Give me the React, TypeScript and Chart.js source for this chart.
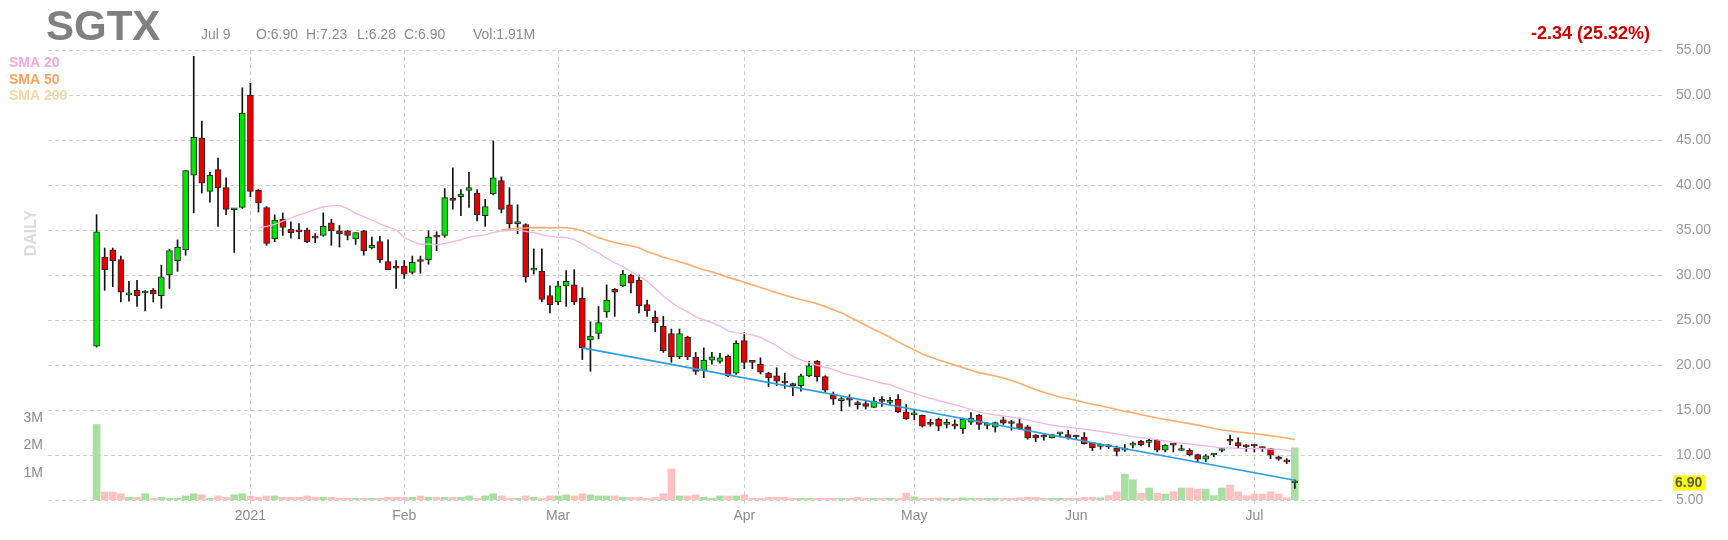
import React, { useEffect, useRef } from 'react';
import { Chart, registerables } from 'chart.js';

Chart.register(...registerables);

// ---- Data ----
// One entry per trading day, Dec 4 2020 (index 0) .. Jul 9 2021 (index 148)
const opens = [
  22.1, 32.0, 32.8, 31.7, 27.8, 28.3, 28.0, 28.3, 27.7, 30.0,
  31.6, 32.8, 41.1, 45.2, 39.3, 41.7, 39.7, 37.25, 37.5, 50.0,
  39.4, 37.5, 34.0, 36.2, 35.1, 34.85, 35.0, 34.15, 34.4, 35.8,
  34.9, 34.9, 34.0, 34.9, 33.0, 33.7, 31.5, 31.0, 31.0, 30.3,
  31.55, 31.7, 34.25, 34.4, 38.35, 38.7, 39.4, 39.1, 36.6, 39.0,
  40.5, 37.8, 35.7, 35.6, 30.55, 30.4, 27.7, 27.0, 28.8, 28.9,
  27.4, 22.8, 23.5, 25.9, 28.4, 28.8, 30.0, 29.4, 26.7, 25.3,
  24.3, 23.5, 20.9, 23.1, 20.85, 19.4, 20.55, 20.4, 21.0, 19.1,
  22.7, 20.35, 20.1, 19.1, 18.8, 18.05, 17.85, 17.7, 18.8, 20.4,
  18.7, 16.7, 16.05, 16.15, 15.65, 15.7, 15.3, 16.05, 15.85, 16.2,
  14.8, 14.45, 14.4, 13.45, 13.96, 13.4, 13.25, 12.9, 13.66, 14.4,
  13.3, 13.1, 13.9, 13.55, 13.5, 13.12, 12.2, 12.05, 11.93, 12.35,
  12.27, 12.05, 12.0, 11.38, 10.95, 10.95, 10.78, 10.55, 11.1, 11.53,
  11.4, 11.64, 10.53, 11.15, 10.5, 10.53, 10.04, 9.53, 10.0, 10.5,
  11.58, 11.38, 10.95, 11.05, 10.75, 10.7, 9.8, 9.4, 6.90,
];
const highs = [
  36.7, 33.0, 33.0, 32.1, 29.3, 29.4, 28.3, 28.5, 31.1, 32.85,
  33.9, 41.6, 54.3, 47.1, 41.4, 43.0, 40.8, 37.4, 50.8, 51.3,
  39.5, 37.6, 36.7, 36.9, 35.9, 35.7, 35.2, 34.6, 36.9, 36.2,
  35.5, 34.95, 34.7, 34.95, 34.2, 34.3, 33.9, 31.6, 31.6, 32.1,
  32.1, 34.9, 34.8, 39.6, 41.9, 39.5, 41.4, 39.5, 38.4, 44.9,
  40.9, 39.7, 37.8, 35.7, 32.9, 32.9, 28.8, 29.3, 30.5, 30.6,
  28.6, 24.8, 26.5, 28.9, 28.5, 30.5, 30.1, 30.0, 27.2, 26.0,
  25.4, 24.0, 24.0, 23.2, 21.4, 21.9, 21.4, 21.3, 21.1, 22.7,
  23.6, 20.4, 20.8, 19.2, 19.7, 19.1, 18.0, 19.0, 20.4, 20.5,
  18.8, 17.0, 16.4, 16.7, 16.0, 16.1, 16.4, 16.5, 16.4, 16.7,
  15.6, 15.0, 14.45, 13.96, 14.1, 13.96, 13.9, 14.1, 14.7, 14.5,
  13.6, 13.66, 14.25, 13.86, 14.1, 13.3, 12.27, 12.27, 12.27, 12.5,
  12.75, 12.2, 12.5, 11.4, 11.27, 11.16, 11.0, 11.16, 11.45, 11.64,
  11.8, 11.7, 11.16, 11.16, 11.1, 10.7, 10.1, 10.04, 10.16, 10.7,
  12.2, 11.9, 11.16, 11.16, 10.9, 10.7, 9.9, 9.6, 7.23,
];
const lows = [
  22.0, 28.3, 28.7, 27.0, 27.1, 26.5, 26.0, 27.0, 26.3, 28.5,
  30.4, 32.2, 36.9, 39.1, 38.1, 35.4, 36.7, 32.5, 37.4, 38.7,
  37.0, 33.3, 33.7, 34.4, 34.1, 34.0, 33.6, 33.6, 34.3, 33.3,
  33.1, 33.9, 33.4, 32.2, 32.9, 31.4, 30.6, 28.5, 29.6, 30.1,
  30.2, 31.2, 32.7, 34.2, 37.3, 36.6, 37.5, 36.0, 35.4, 38.9,
  36.9, 35.1, 34.6, 29.2, 30.1, 27.0, 25.8, 26.7, 26.5, 26.7,
  20.6, 19.3, 22.9, 25.3, 25.4, 28.7, 28.0, 25.8, 25.4, 23.7,
  21.4, 20.3, 20.7, 20.6, 18.96, 18.6, 20.1, 20.2, 18.7, 18.96,
  19.6, 19.6, 19.0, 17.6, 17.7, 17.4, 16.6, 17.1, 18.7, 18.2,
  17.0, 15.6, 14.9, 15.4, 15.1, 15.1, 15.25, 15.4, 15.6, 14.7,
  13.96, 13.9, 13.1, 13.2, 12.7, 13.0, 12.9, 12.4, 13.4, 12.85,
  12.9, 12.55, 13.4, 12.75, 12.86, 11.75, 11.5, 11.64, 11.9, 12.0,
  11.75, 11.75, 11.2, 10.5, 10.64, 10.7, 9.9, 10.4, 10.8, 11.0,
  10.9, 10.34, 10.34, 10.34, 10.5, 9.9, 9.16, 9.23, 9.8, 10.34,
  11.16, 10.7, 10.4, 10.34, 10.4, 9.6, 9.4, 9.04, 6.28,
];
const closes = [
  34.8, 30.6, 31.6, 28.1, 27.85, 27.7, 28.05, 27.9, 29.8, 32.7,
  33.1, 41.6, 45.3, 40.2, 41.1, 39.7, 37.3, 37.3, 48.0, 39.3,
  38.0, 33.5, 36.1, 35.3, 34.7, 34.8, 33.7, 34.1, 35.4, 34.9,
  34.6, 34.4, 34.7, 32.7, 33.3, 31.7, 30.6, 30.75, 30.1, 31.4,
  31.5, 34.2, 34.2, 38.6, 38.3, 39.0, 39.7, 36.7, 37.6, 40.8,
  37.3, 35.7, 35.75, 29.8, 30.6, 27.3, 26.7, 28.8, 29.3, 27.0,
  21.9, 23.2, 24.7, 27.2, 28.1, 30.1, 29.1, 26.6, 26.0, 24.7,
  21.6, 20.9, 23.5, 20.9, 19.3, 20.55, 20.9, 20.8, 18.8, 22.4,
  20.3, 20.3, 19.2, 18.6, 18.2, 18.0, 17.7, 18.8, 19.9, 18.7,
  17.2, 16.2, 16.1, 16.1, 15.6, 15.4, 16.0, 15.95, 15.9, 14.8,
  14.0, 14.5, 13.2, 13.4, 13.2, 13.45, 13.2, 13.96, 14.1, 13.4,
  13.35, 13.6, 13.55, 13.5, 12.93, 11.9, 11.9, 12.0, 12.27, 12.4,
  11.93, 12.0, 11.27, 10.82, 11.0, 10.9, 10.4, 10.6, 11.16, 11.16,
  11.45, 10.53, 11.1, 11.1, 10.55, 10.04, 9.53, 9.9, 10.04, 10.55,
  11.53, 11.0, 10.9, 11.0, 10.7, 9.97, 9.53, 9.24, 6.90,
];
// volume in millions of shares
const volumesM = [
  2.77, 0.29, 0.29, 0.23, 0.10, 0.10, 0.23, 0.06, 0.10, 0.06,
  0.06, 0.15, 0.23, 0.19, 0.06, 0.15, 0.10, 0.19, 0.23, 0.15,
  0.10, 0.15, 0.15, 0.10, 0.10, 0.10, 0.15, 0.10, 0.10, 0.10,
  0.06, 0.06, 0.06, 0.06, 0.06, 0.06, 0.10, 0.10, 0.10, 0.10,
  0.15, 0.10, 0.10, 0.10, 0.10, 0.10, 0.15, 0.06, 0.15, 0.23,
  0.15, 0.06, 0.06, 0.15, 0.10, 0.06, 0.15, 0.15, 0.19, 0.15,
  0.23, 0.19, 0.15, 0.15, 0.15, 0.10, 0.10, 0.10, 0.06, 0.10,
  0.23, 1.14, 0.15, 0.15, 0.19, 0.10, 0.06, 0.15, 0.15, 0.15,
  0.19, 0.06, 0.06, 0.10, 0.10, 0.10, 0.06, 0.06, 0.06, 0.06,
  0.06, 0.06, 0.06, 0.06, 0.10, 0.06, 0.06, 0.06, 0.06, 0.06,
  0.25, 0.12, 0.06, 0.06, 0.08, 0.06, 0.06, 0.08, 0.06, 0.06,
  0.06, 0.06, 0.06, 0.06, 0.08, 0.10, 0.10, 0.06, 0.06, 0.06,
  0.06, 0.06, 0.10, 0.10, 0.08, 0.16, 0.30, 0.95, 0.74, 0.25,
  0.44, 0.25, 0.22, 0.30, 0.44, 0.44, 0.40, 0.40, 0.16, 0.44,
  0.55, 0.30, 0.16, 0.22, 0.22, 0.30, 0.22, 0.08, 1.91,
];
// month boundaries (index of first trading day) and their labels
const monthTickIndex = [19, 38, 57, 80, 101, 121, 143];
const monthTickLabels = ['2021', 'Feb', 'Mar', 'Apr', 'May', 'Jun', 'Jul'];
const volumeTicksM = [1, 2, 3];
// hand-drawn trendline anchors (index, price)
const trendIndex = [60, 148];
const trendPrice = [21.9, 7.2];
const smaLegend = ['SMA 20', 'SMA 50', 'SMA 200'];
const smaPeriods = [20, 50];

const header = {
  symbol: 'SGTX',
  date: 'Jul 9',
  open: 'O:6.90',
  high: 'H:7.23',
  low: 'L:6.28',
  close: 'C:6.90',
  vol: 'Vol:1.91M',
  change: '-2.34 (25.32%)',
};

const FONT = 'Arial, "Liberation Sans", sans-serif';

function movingAverage(values: number[], n: number) {
  const out: { x: number; y: number }[] = [];
  for (let i = n; i < values.length; i++) {
    let s = 0;
    for (let k = i - n + 1; k <= i; k++) s += values[k];
    out.push({ x: i, y: s / n });
  }
  return out;
}

const overlayPlugin = {
  id: 'overlayText',
  afterDraw(chart: any) {
    const ctx = chart.ctx as CanvasRenderingContext2D;
    ctx.save();
    // symbol
    ctx.textBaseline = 'alphabetic';
    ctx.textAlign = 'left';
    ctx.fillStyle = '#808080';
    ctx.font = `bold 42px ${FONT}`;
    ctx.fillText(header.symbol, 46, 40);
    // OHLC header
    ctx.font = `14px ${FONT}`;
    ctx.fillStyle = '#8c8c8c';
    ctx.fillText(header.date, 201, 38.5);
    ctx.fillText(header.open, 256, 38.5);
    ctx.fillText(header.high, 306, 38.5);
    ctx.fillText(header.low, 357, 38.5);
    ctx.fillText(header.close, 404, 38.5);
    ctx.fillText(header.vol, 473, 38.5);
    // change
    ctx.font = `bold 18px ${FONT}`;
    ctx.fillStyle = '#cc0000';
    ctx.textAlign = 'right';
    ctx.fillText(header.change, 1650, 39);
    // SMA legend
    ctx.textAlign = 'left';
    ctx.font = `bold 14px ${FONT}`;
    const legendColors = ['#f3a8de', '#ffa05c', '#f5d8a2'];
    const legendY = [67, 84, 100];
    smaLegend.forEach((t, i) => {
      ctx.fillStyle = legendColors[i];
      ctx.fillText(t, 9, legendY[i]);
    });
    // DAILY
    ctx.save();
    ctx.translate(32, 233);
    ctx.rotate(-Math.PI / 2);
    ctx.textAlign = 'center';
    ctx.textBaseline = 'middle';
    ctx.font = `bold 16px ${FONT}`;
    ctx.fillStyle = '#dcdcdc';
    ctx.fillText('DAILY', 0, 0);
    ctx.restore();
    // last price label
    const last = closes[closes.length - 1];
    const py = chart.scales.y.getPixelForValue(last);
    ctx.fillStyle = '#ffff00';
    ctx.fillRect(1673, py - 7.5, 32, 15);
    ctx.fillStyle = '#5a5a5a';
    ctx.font = `bold 14px ${FONT}`;
    ctx.textAlign = 'left';
    ctx.textBaseline = 'middle';
    ctx.fillText(last.toFixed(2), 1675, py + 0.5);
    ctx.restore();
  },
};

export default function App() {
  const ref = useRef<HTMLCanvasElement>(null);
  useEffect(() => {
    const canvas = ref.current;
    if (!canvas) return;
    const up = closes.map((c, i) => c >= opens[i]);
    const chart = new Chart(canvas, {
      type: 'bar',
      data: {
        datasets: [
          {
            type: 'line',
            label: 'Trend',
            data: trendIndex.map((x, i) => ({ x, y: trendPrice[i] })),
            borderColor: '#2a9fe3',
            borderWidth: 1.6,
            pointRadius: 0,
            yAxisID: 'y',
            order: 0,
          } as any,
          {
            type: 'line',
            label: smaLegend[0],
            data: movingAverage(closes, smaPeriods[0]),
            borderColor: '#f2b5e8',
            borderWidth: 1.3,
            pointRadius: 0,
            yAxisID: 'y',
            order: 1,
          } as any,
          {
            type: 'line',
            label: smaLegend[1],
            data: movingAverage(closes, smaPeriods[1]),
            borderColor: '#ffac6e',
            borderWidth: 1.6,
            pointRadius: 0,
            yAxisID: 'y',
            order: 1,
          } as any,
          {
            type: 'bar',
            label: 'Body',
            data: opens.map((o, i) => ({ x: i, y: [o, closes[i]] })),
            backgroundColor: up.map((u) => (u ? '#00e400' : '#e80000')),
            borderColor: '#262626',
            borderWidth: 1,
            borderSkipped: false,
            barThickness: 6,
            minBarLength: 2,
            grouped: false,
            yAxisID: 'y',
            order: 2,
          } as any,
          {
            type: 'bar',
            label: 'Wick',
            data: lows.map((l, i) => ({ x: i, y: [l, highs[i]] })),
            backgroundColor: '#111111',
            barThickness: 1,
            grouped: false,
            yAxisID: 'y',
            order: 3,
          } as any,
          {
            type: 'bar',
            label: 'Volume',
            data: volumesM.map((v, i) => ({ x: i, y: v * 1e6 })),
            backgroundColor: up.map((u) => (u ? '#a9e0a0' : '#ffc1c1')),
            barThickness: 7,
            grouped: false,
            yAxisID: 'v',
            order: 4,
          } as any,
        ],
      },
      options: {
        animation: false,
        responsive: false,
        devicePixelRatio: 1,
        events: [],
        layout: { padding: { top: 50, left: 0, right: 0, bottom: 0 } },
        plugins: { legend: { display: false }, tooltip: { enabled: false } },
        scales: {
          x: {
            type: 'linear',
            position: 'bottom',
            min: -6,
            max: 193.6,
            offset: false,
            grid: {
              offset: false,
              color: '#cfcfcf',
              lineWidth: 1,
              drawTicks: true,
              tickLength: 5,
              tickBorderDash: [4, 3],
            },
            border: { display: false, dash: [4, 3] },
            afterBuildTicks: (scale: any) => {
              scale.ticks = monthTickIndex.map((v) => ({ value: v }));
            },
            afterFit: (scale: any) => {
              scale.height = 40;
            },
            ticks: {
              autoSkip: false,
              maxRotation: 0,
              padding: 3,
              color: '#8c8c8c',
              font: { size: 14, family: FONT },
              callback: (v: any) => {
                const k = monthTickIndex.indexOf(Number(v));
                return k >= 0 ? monthTickLabels[k] : '';
              },
            },
          },
          y: {
            type: 'linear',
            position: 'right',
            min: 5,
            max: 55,
            grid: { color: '#cfcfcf', lineWidth: 1, drawTicks: false },
            border: { display: false, dash: [4, 3] },
            afterFit: (scale: any) => {
              scale.width = 64;
            },
            ticks: {
              stepSize: 5,
              padding: 12,
              color: '#999999',
              font: { size: 14, family: FONT },
              callback: (v: any) => Number(v).toFixed(2),
            },
          },
          v: {
            type: 'linear',
            position: 'left',
            min: 0,
            max: 16.5e6,
            grid: { display: false, drawTicks: false },
            border: { display: false },
            afterBuildTicks: (scale: any) => {
              scale.ticks = volumeTicksM.map((m) => ({ value: m * 1e6 }));
            },
            afterFit: (scale: any) => {
              scale.width = 48;
            },
            ticks: {
              padding: 5,
              color: '#8c8c8c',
              font: { size: 14, family: FONT },
              callback: (v: any) => `${Math.round(Number(v) / 1e6)}M`,
            },
          },
        },
      } as any,
      plugins: [overlayPlugin],
    });
    return () => chart.destroy();
  }, []);

  return (
    <div style={{ position: 'absolute', left: 0, top: 0, width: 1728, height: 540, background: '#ffffff' }}>
      <canvas ref={ref} width={1728} height={540} style={{ display: 'block', width: 1728, height: 540 }} />
    </div>
  );
}
